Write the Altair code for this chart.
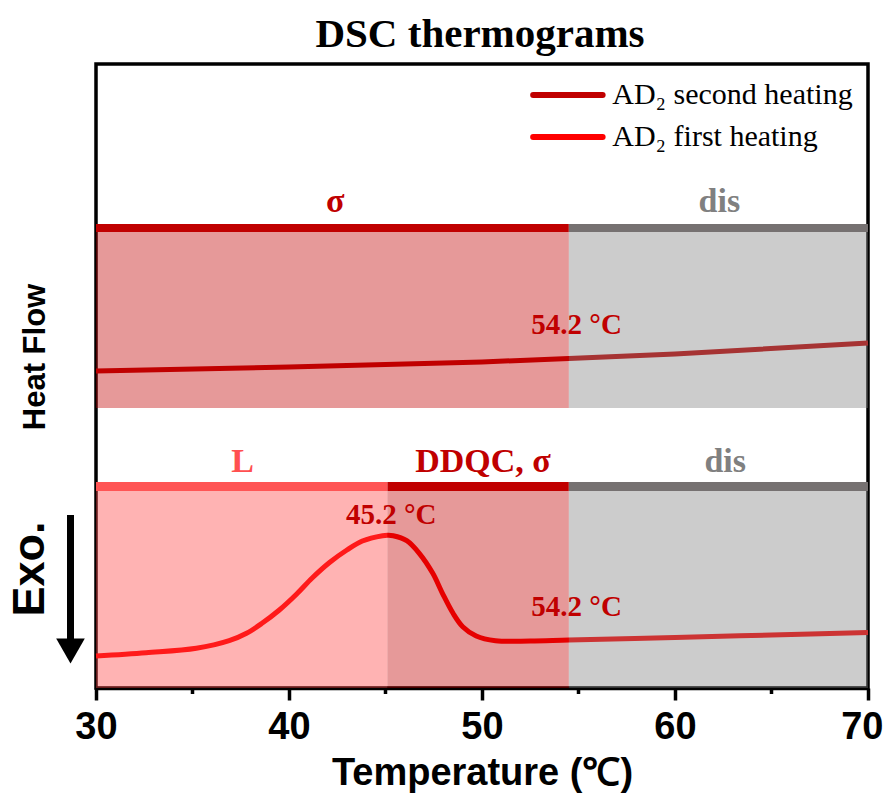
import altair as alt
import pandas as pd

# ---- data ----
temp_second = [30, 40, 50, 54.5, 60, 70]
flow_second = [31.7, 32.1, 32.6, 32.95, 33.4, 34.5]

temp_first = [30, 32.6, 35.2, 36.9, 37.8, 38.6, 39.5, 40.4, 41.2, 42.1, 43.0, 43.8,
              44.85, 45.1, 45.4, 46.1, 46.75, 47.45, 47.95, 48.5, 49.0, 49.7, 50.7,
              52.5, 54.5, 60, 65, 70]
flow_first = [3.2, 3.53, 3.97, 4.73, 5.47, 6.47, 7.8, 9.4, 11.0, 12.55, 13.8, 14.7,
              15.23, 15.27, 15.23, 14.73, 13.47, 11.47, 9.47, 7.47, 6.13, 5.2, 4.73,
              4.7, 4.8, 5.05, 5.3, 5.55]

# phase regions (top panel: second heating, bottom panel: first heating)
top_phase = ["σ", "dis"]
top_start = [30, 54.5]
top_end = [54.5, 70]
top_fill = ["#C00000", "#808080"]
top_bar = ["#C00000", "#767171"]

bot_phase = ["L", "DDQC, σ", "dis"]
bot_start = [30, 45.1, 54.5]
bot_end = [45.1, 54.5, 70]
bot_fill = ["#FF4040", "#C00000", "#808080"]
bot_bar = ["#FF5555", "#C00000", "#767171"]

top_band = [28.0, 45.6]
top_bar_band = [45.6, 46.4]
bot_band = [0.0, 19.7]
bot_bar_band = [19.7, 20.6]

label_text = ["σ", "dis", "54.2 °C", "L", "DDQC, σ", "dis", "45.2 °C", "54.2 °C"]
label_t = [42.4, 62.3, 54.9, 37.6, 50.05, 62.6, 45.3, 54.9]
label_v = [48.6, 48.6, 36.3, 22.6, 22.6, 22.6, 17.3, 8.1]
label_color = ["#C00000", "#808080", "#C00000", "#FF5050", "#C00000", "#808080",
               "#C00000", "#C00000"]
label_size = [34, 34, 29, 34, 34, 34, 29, 29]

legend_names = ["AD₂ second heating", "AD₂ first heating"]
legend_colors = ["#C00000", "#FF0000"]
legend_v = [59.3, 55.1]
legend_x0, legend_x1, legend_tx = 52.65, 56.25, 56.75

major_ticks = [30, 40, 50, 60, 70]
minor_ticks = [35, 45, 55, 65]

W, H = 772, 624

# ---- tables ----
df_second = pd.DataFrame({"t": temp_second, "v": flow_second})
df_first = pd.DataFrame({"t": temp_first, "v": flow_first})

rows = []
for p, s, e, f, b in zip(top_phase, top_start, top_end, top_fill, top_bar):
    rows.append({"t": s, "t2": e, "v": top_band[0], "v2": top_band[1], "c": f, "kind": "fill"})
    rows.append({"t": s, "t2": e, "v": top_bar_band[0], "v2": top_bar_band[1], "c": b, "kind": "bar"})
for p, s, e, f, b in zip(bot_phase, bot_start, bot_end, bot_fill, bot_bar):
    rows.append({"t": s, "t2": e, "v": bot_band[0], "v2": bot_band[1], "c": f, "kind": "fill"})
    rows.append({"t": s, "t2": e, "v": bot_bar_band[0], "v2": bot_bar_band[1], "c": b, "kind": "bar"})
df_regions = pd.DataFrame(rows)
df_fill = df_regions[df_regions.kind == "fill"]
df_bar = df_regions[df_regions.kind == "bar"]

df_labels = pd.DataFrame({"text": label_text, "t": label_t, "v": label_v,
                          "c": label_color, "s": label_size})
df_leg = pd.DataFrame({"name": legend_names, "c": legend_colors, "v": legend_v,
                       "t": [legend_x0] * 2, "t2": [legend_x1] * 2,
                       "tt": [legend_tx] * 2})
df_minor = pd.DataFrame({"t": minor_ticks})

xaxis = alt.Axis(
    values=major_ticks, title="Temperature (℃)", format="d",
    labelAlign=alt.condition("datum.value == 70", alt.value("right"), alt.value("center")),
    labelOffset=alt.condition("datum.value == 70", alt.value(15), alt.value(0)),
)
xscale = alt.Scale(domain=[30, 70], nice=False, zero=False)
X = alt.X("t:Q", scale=xscale, axis=xaxis)
Y = alt.Y("v:Q", scale=alt.Scale(domain=[0, 62.4], nice=False), axis=None)

base_first = alt.Chart(df_first).mark_line(
    color="#FF0000", strokeWidth=5, interpolate="catmull-rom").encode(x=X, y=Y)
base_second = alt.Chart(df_second).mark_line(
    color="#C00000", strokeWidth=5).encode(x=X, y=Y)

fills = alt.Chart(df_fill).mark_rect(opacity=0.4).encode(
    x=X, x2="t2:Q", y=Y, y2="v2:Q", color=alt.Color("c:N", scale=None))
bars = alt.Chart(df_bar).mark_rect().encode(
    x=X, x2="t2:Q", y=Y, y2="v2:Q", color=alt.Color("c:N", scale=None))

labels = alt.Chart(df_labels).mark_text(
    font="Liberation Serif", fontWeight="bold", baseline="middle", align="center"
).encode(x=X, y=Y, text="text:N", color=alt.Color("c:N", scale=None),
         size=alt.Size("s:Q", scale=None))

leg_lines = alt.Chart(df_leg).mark_rule(strokeWidth=6, strokeCap="round").encode(
    x=X, x2="t2:Q", y=Y, color=alt.Color("c:N", scale=None))
leg_text = alt.Chart(df_leg).mark_text(
    font="Liberation Serif", fontSize=30, align="left", baseline="middle", color="black"
).encode(x=alt.X("tt:Q", scale=xscale, axis=xaxis), y=Y, text="name:N")

minor = alt.Chart(df_minor).mark_rule(color="black", strokeWidth=3.5).encode(
    x=X, y=alt.value(H), y2=alt.value(H + 6))

title = alt.Chart(pd.DataFrame({"txt": ["DSC thermograms"]})).mark_text(
    font="Liberation Serif", fontWeight="bold", fontSize=41, color="black",
    align="center", baseline="middle"
).encode(x=alt.value(W / 2 - 2), y=alt.value(-29), text="txt:N")

heat = alt.Chart(pd.DataFrame({"txt": ["Heat Flow"]})).mark_text(
    font="Liberation Sans", fontWeight="bold", fontSize=31, color="black",
    align="center", baseline="middle", angle=270
).encode(x=alt.value(-60), y=alt.value(293), text="txt:N")

exo = alt.Chart(pd.DataFrame({"txt": ["Exo."]})).mark_text(
    font="Liberation Sans", fontWeight="bold", fontSize=45, color="black",
    align="center", baseline="middle", angle=270
).encode(x=alt.value(-66), y=alt.value(505), text="txt:N")

arrow_shaft = alt.Chart(pd.DataFrame({"a": [0]})).mark_rule(
    color="black", strokeWidth=7).encode(
    x=alt.value(-25.5), y=alt.value(451), y2=alt.value(578))
arrow_head = alt.Chart(pd.DataFrame({"a": [0]})).mark_point(
    shape="triangle-down", filled=True, color="black", opacity=1, size=820).encode(
    x=alt.value(-25.5), y=alt.value(587))

chart = alt.layer(
    base_second, base_first, fills, bars, labels, leg_lines, leg_text, minor,
    title, heat, exo, arrow_shaft, arrow_head
).properties(
    width=W, height=H,
    padding={"left": 88, "top": 56, "right": 15, "bottom": 105},
    autosize=alt.AutoSizeParams(type="none"),
).configure_view(
    stroke="black", strokeWidth=3.5
).configure_axis(
    domainColor="black", domainWidth=3.5, tickColor="black", tickWidth=3.5,
    tickSize=12, labelFont="Liberation Sans", labelFontWeight="bold",
    labelFontSize=38, labelColor="black", labelPadding=8, labelFlush=False,
    titleFont="Liberation Sans", titleFontWeight="bold", titleFontSize=38,
    titleColor="black", titlePadding=8, grid=False
)

chart.save("out.html", embed_options={"renderer": "svg", "actions": False})
